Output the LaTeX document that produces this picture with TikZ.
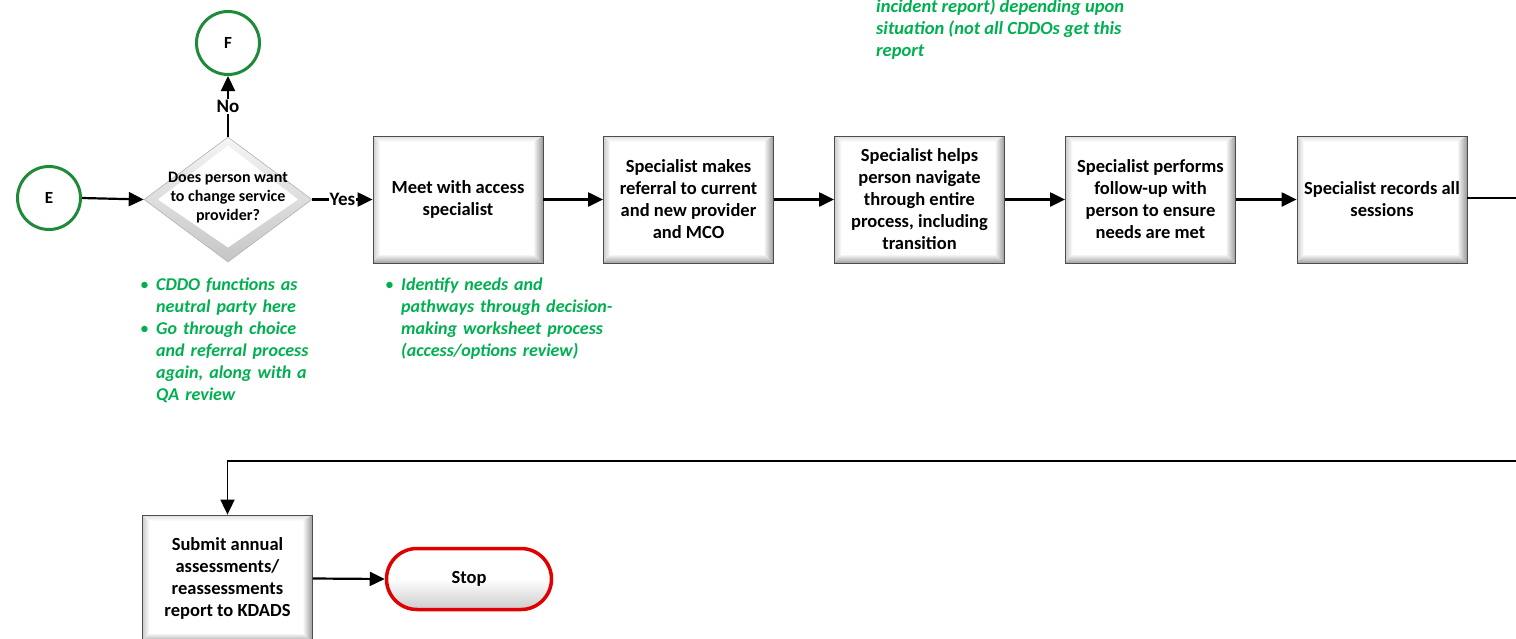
\documentclass[tikz,border=0pt]{standalone}
\usepackage{fontspec}
\setmainfont{Carlito}
\usepackage{enumitem}
\usetikzlibrary{shapes.geometric,shapes.misc,arrows.meta,calc}

\definecolor{notegreen}{HTML}{00B050}
\definecolor{ringgreen}{HTML}{1F8A3A}
\definecolor{stopred}{HTML}{E00000}

\tikzset{
  flow/.style={line width=2.2pt, -{Triangle[length=15pt,width=14pt]}},
  plain/.style={line width=2pt},
  lbl/.style={fill=white, inner sep=1pt, font=\fontsize{19}{22}\selectfont\bfseries},
  % square process box with a bevelled rim
  bevelbox/.style={rectangle, draw=gray!60!black, line width=0.8pt, fill=white,
    minimum width=170pt, minimum height=127pt, inner sep=0pt, align=center,
    font=\fontsize{18.5}{22}\selectfont\bfseries,
    path picture={
      \path (path picture bounding box.south west) coordinate (bsw)
            (path picture bounding box.north west) coordinate (bnw)
            (path picture bounding box.north east) coordinate (bne)
            (path picture bounding box.south east) coordinate (bse);
      \shade[left color=gray!40, right color=white]
        (bsw) -- (bnw) -- ($(bnw)+(7pt,-6pt)$) -- ($(bsw)+(7pt,9pt)$) -- cycle;
      \shade[top color=gray!25, bottom color=white]
        (bnw) -- (bne) -- ($(bne)+(-10pt,-6pt)$) -- ($(bnw)+(7pt,-6pt)$) -- cycle;
      \shade[left color=white, right color=gray!80]
        (bne) -- (bse) -- ($(bse)+(-10pt,9pt)$) -- ($(bne)+(-10pt,-6pt)$) -- cycle;
      \shade[top color=white, bottom color=gray!75]
        (bsw) -- (bse) -- ($(bse)+(-10pt,9pt)$) -- ($(bsw)+(7pt,9pt)$) -- cycle;
    }},
  % decision diamond with a bevelled rim
  decision/.style={diamond, draw=gray!60, line width=0.6pt, fill=white,
    minimum width=168pt, minimum height=125pt, inner sep=0pt, aspect=1.34,
    path picture={
      \path (path picture bounding box.center) coordinate (dc);
      \shade[top color=gray!8, bottom color=gray!45]
        (path picture bounding box.south west) rectangle (path picture bounding box.north east);
      \fill[white] ($(dc)+(0,54pt)$) -- ($(dc)+(70pt,0)$) -- ($(dc)+(0,-48pt)$) -- ($(dc)+(-70pt,0)$) -- cycle;
    }},
  qtext/.style={align=center, inner sep=0pt, font=\fontsize{16}{19}\selectfont\bfseries},
  connector/.style={circle, draw=ringgreen, line width=3pt, fill=white,
    minimum size=63pt, inner sep=0pt, font=\fontsize{17}{19}\selectfont\bfseries},
  terminal/.style={rounded rectangle, draw=stopred, line width=3.5pt,
    minimum width=165pt, minimum height=61pt, inner sep=0pt,
    font=\fontsize{18.5}{22}\selectfont\bfseries,
    top color=white, bottom color=gray!40, middle color=white},
  note/.style={inner sep=0pt, anchor=north west, text=notegreen,
    font=\fontsize{18}{22}\selectfont\bfseries\itshape},
}

\begin{document}
\begin{tikzpicture}[x=1pt, y=-1pt]
  \useasboundingbox (0,0) rectangle (1516,638);

  % ---- start of the choice branch
  \node[connector] (E) at (49,198) {E};
  \node[connector] (F) at (228,43) {F};
  \node[decision] (q) at (228,199.5) {};
  \node[qtext] (qtxt) at (228,198) {Does person want\\to change service\\provider?};

  % ---- process row
  \node[bevelbox] (b1) at (458,199.5) {Meet with access\\specialist};
  \node[bevelbox] (b2) at (688.5,199.5) {Specialist makes\\referral to current\\and new provider\\and MCO};
  \node[bevelbox] (b3) at (919.5,199.5) {Specialist helps\\person navigate\\through entire\\process, including\\transition};
  \node[bevelbox] (b4) at (1150.5,199.5) {Specialist performs\\follow-up with\\person to ensure\\needs are met};
  \node[bevelbox] (b5) at (1382,199.5) {Specialist records all\\sessions};

  % ---- closing row
  \node[bevelbox] (b6) at (227.5,578.5) {Submit annual\\assessments/\\reassessments\\report to KDADS};
  \node[terminal] (stop) at (469,579) {Stop};

  % ---- notes
  \node[note, font=\fontsize{18.5}{22}\selectfont\bfseries\itshape] (topnote) at (876,-1) [align=left]
    {incident report) depending upon\\situation (not all CDDOs get this\\report};
  \node[note, text width=190pt] (qnote) at (137,268) {%
    \begin{itemize}[leftmargin=19pt,labelsep=7pt,itemsep=0pt,topsep=0pt,parsep=0pt,partopsep=0pt,label={\normalfont\textbullet}]
      \item CDDO functions as\newline neutral party here
      \item Go through choice\newline and referral process\newline again, along with a\newline QA review
    \end{itemize}};
  \node[note, text width=260pt] (b1note) at (382,268) {%
    \begin{itemize}[leftmargin=19pt,labelsep=7pt,itemsep=0pt,topsep=0pt,parsep=0pt,partopsep=0pt,label={\normalfont\textbullet}]
      \item Identify needs and\newline pathways through decision-\newline making worksheet process\newline (access/options review)
    \end{itemize}};

  % ---- connectors
  \draw[flow] (E.east) -- (q.west);
  \draw[flow] (q.north) -- node[lbl] (nolbl) {No} (F.south);
  \draw[flow] (q.east) -- node[lbl] (yeslbl) {Yes} (b1.west);
  \draw[flow] (b1.east) -- (b2.west);
  \draw[flow] (b2.east) -- (b3.west);
  \draw[flow] (b3.east) -- (b4.west);
  \draw[flow] (b4.east) -- (b5.west);
  \coordinate (outR) at (1530,198);
  \draw[plain] (b5.east |- outR) -- (outR);
  \coordinate (inR) at (1530,461);
  \draw[flow, line width=1.8pt] (inR) -| (b6.north);
  \draw[flow] (b6.east) -- (stop.west);
\end{tikzpicture}
\end{document}
